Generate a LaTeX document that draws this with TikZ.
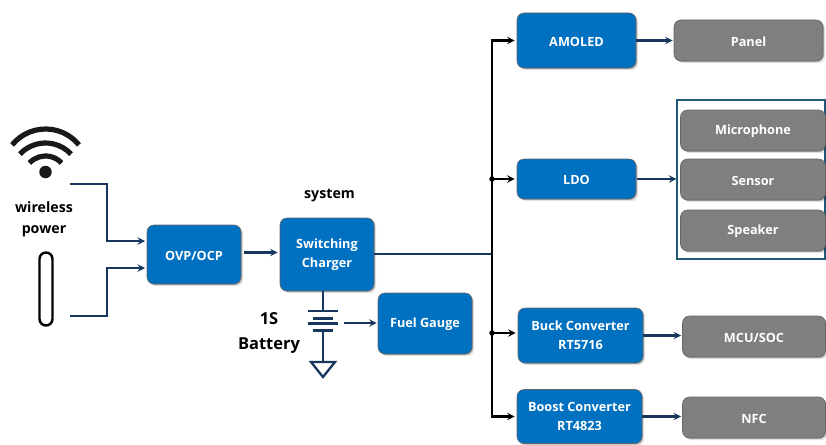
\documentclass[tikz,border=0pt]{standalone}
\usepackage{fontspec}
\setmainfont{Open Sans}
\usetikzlibrary{positioning,shadows}
\definecolor{bluebox}{HTML}{0070C0}
\definecolor{graybox}{HTML}{7F7F7F}
\definecolor{wirecol}{HTML}{17375E}
\definecolor{framecol}{HTML}{215A78}
\begin{document}
\begin{tikzpicture}
    [x=1pt,y=-1pt,node distance=38pt,
    box/.style={rounded corners=7pt,draw=black!60,line width=.6pt,text=white,align=center,inner sep=0pt,
        font=\fontsize{12.7}{18.6}\selectfont\bfseries,
        execute at begin node={\rule{0pt}{12pt}},
        drop shadow={shadow xshift=2.2pt,shadow yshift=-2.2pt,opacity=.1,fill=black},
        drop shadow={shadow xshift=1pt,shadow yshift=-1pt,opacity=.22,fill=black}},
    bb/.style={box,fill=bluebox},
    gg/.style={box,fill=graybox},
    lbl/.style={font=\fontsize{14.2}{21}\selectfont\bfseries,align=center,inner sep=0pt},
    wire/.style={draw=wirecol,line width=2.3pt},
    wirearrow/.style={wire,-stealth},
    busline/.style={draw=black,line width=2.3pt},
    dot/.style={circle,fill=black,inner sep=0pt,minimum size=5.5pt}]
    \useasboundingbox (0,0) rectangle (826,444);
    % blocks in the left half
    \node[bb,minimum width=94pt,minimum height=59pt] (ovp) at (194,254.5) {OVP/OCP};
    \node[bb,minimum width=94pt,minimum height=73pt] (charger) at (327,254.5) {Switching\\Charger};
    \node[bb,minimum width=94pt,minimum height=61pt] (gauge) at (425,323.5) {Fuel Gauge};
    \node[lbl] (system) at (329.5,196) {system};
    \node[lbl] (wireless) at (44,219.5) {wireless\\power};
    \node[lbl,font=\fontsize{16.5}{25}\selectfont\bfseries] (battery) at (269,333) {1S\\Battery};
    % blocks in the right half
    \node[bb,minimum width=119pt,minimum height=55pt] (amoled) at (576.5,40.5) {AMOLED};
    \node[gg,minimum width=149pt,minimum height=41pt] (panel) at (748.5,40.5) {Panel};
    \node[bb,minimum width=119pt,minimum height=40pt] (ldo) at (576.5,179) {LDO};
    \node[draw=framecol,line width=1.2pt,minimum width=148pt,minimum height=159pt] (frame) at (751,179.5) {};
    \node[gg,minimum width=145pt,minimum height=41pt] (mic) at (753,130.5) {Microphone};
    \node[gg,minimum width=145pt,minimum height=41pt] (sensor) at (753,179.5) {Sensor};
    \node[gg,minimum width=145pt,minimum height=41pt] (speaker) at (753,230.5) {Speaker};
    \node[bb,minimum width=125pt,minimum height=55pt] (buck) at (580.5,335.5) {Buck Converter\\RT5716};
    \node[gg,minimum width=143pt,minimum height=41pt] (mcu) at (754,336.5) {MCU/SOC};
    \node[bb,minimum width=125pt,minimum height=54pt] (boost) at (579.5,416.5) {Boost Converter\\RT4823};
    \node[gg,minimum width=143pt,minimum height=41pt] (nfc) at (754,417.5) {NFC};
    % wifi symbol and the long pill
    \node[circle,fill=black!90,inner sep=0pt,minimum size=12.5pt] (wifi) at (45.5,172) {};
    \draw[black!90,line width=5.2pt] (45.5,172) ++(219:43) arc[start angle=219,end angle=321,radius=43];
    \draw[black!90,line width=5.2pt] (45.5,178) ++(223:35) arc[start angle=223,end angle=317,radius=35];
    \draw[black!90,line width=5.2pt] (45.5,178) ++(223:22) arc[start angle=223,end angle=317,radius=22];
    \node[draw=black,line width=2.4pt,rounded corners=6.5pt,minimum width=13pt,minimum height=73pt,inner sep=0pt] (pill) at (46,289) {};
    \coordinate (wifiout) at (70,184);
    \coordinate (pillout) at (70,316);
    \coordinate (inup) at (145,241);
    \coordinate (indown) at (145,268);
    \draw[wirearrow] (wifiout) -- (107,184) -- (107,241) -- (inup);
    \draw[wirearrow] (pillout) -- (107,316) -- (107,268) -- (indown);
    \draw[wirearrow,shorten <=3pt,shorten >=2pt] ([yshift=2pt]ovp.east) -- ([yshift=2pt]charger.west);
    % battery and ground
    \coordinate (plate1) at (323,311);
    \coordinate (plate2) at (323,318);
    \coordinate (plate3) at (323,323.5);
    \coordinate (plate4) at (323,330);
    \coordinate (gnd) at (323,362);
    \draw[wire] (charger.south -| plate1) -- (plate1);
    \draw[wire] ([xshift=-15pt]plate1) -- ([xshift=15pt]plate1);
    \draw[wire,line width=3pt] ([xshift=-10pt]plate2) -- ([xshift=10pt]plate2);
    \draw[wire] ([xshift=-15pt]plate3) -- ([xshift=15pt]plate3);
    \draw[wire,line width=3pt] ([xshift=-10pt]plate4) -- ([xshift=10pt]plate4);
    \draw[wire] (plate4) -- (gnd);
    \draw[wire] ([xshift=-12pt]gnd) -- ([xshift=12pt]gnd) -- (323,377) -- cycle;
    \draw[wirearrow,shorten >=1pt] (344,323) -- (gauge.west |- 344,323);
    % the rail
    \coordinate (bus) at (492,254);
    \draw[wire,line width=1.6pt] (charger.east |- bus) -- (bus);
    \draw[busline,-stealth,shorten >=2pt] (bus) |- (amoled.west);
    \draw[busline,-stealth,shorten >=2pt] (bus) |- (boost.west);
    \draw[busline,-stealth,shorten >=2pt] (bus |- ldo.west) -- (ldo.west);
    \draw[busline,-stealth,shorten >=2pt] (bus |- 0,333) -- (buck.west |- 0,333);
    \node[dot] (dotldo) at (bus |- ldo.west) {};
    \node[dot] (dotbuck) at (bus |- 0,333) {};
    % outputs
    \draw[wirearrow,shorten >=1pt] (amoled.east) -- (panel.west);
    \draw[wirearrow,shorten <=1pt] (ldo.east) -- (frame.west |- ldo.east);
    \draw[wirearrow,shorten >=1pt] (buck.east) -- (mcu.west |- buck.east);
    \draw[wirearrow,shorten >=1pt] (boost.east) -- (nfc.west |- boost.east);
\end{tikzpicture}
\end{document}
